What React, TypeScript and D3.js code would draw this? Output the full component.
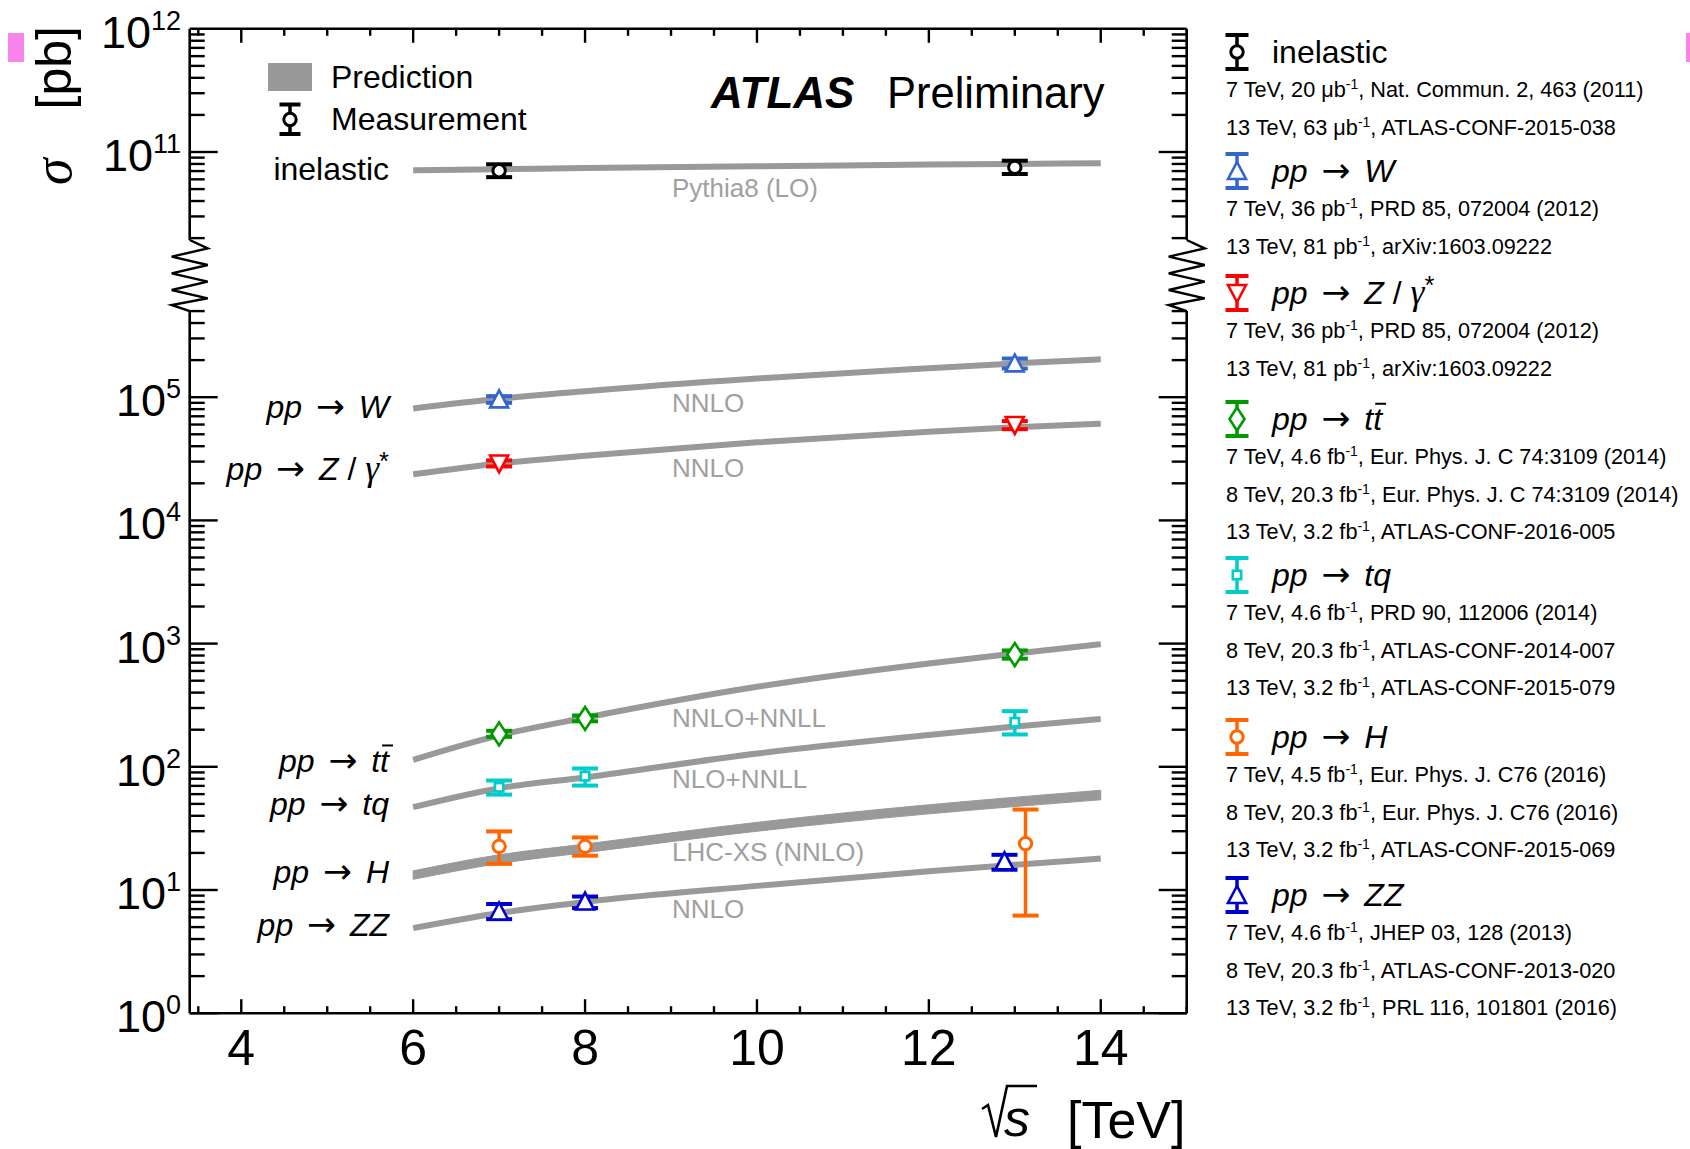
import React, { useLayoutEffect, useRef, useState } from 'react';
import * as d3 from 'd3';

// ---------------- data ----------------
const predEnergies = [6, 7, 8, 10, 12, 13, 14];
const predInelastic = [7.1e10, 7.25e10, 7.4e10, 7.65e10, 7.9e10, 8.0e10, 8.1e10];
const predW = [8.1e4, 9.7e4, 1.12e5, 1.42e5, 1.72e5, 1.88e5, 2.03e5];
const predZ = [2.37e4, 2.9e4, 3.35e4, 4.3e4, 5.25e4, 5.7e4, 6.1e4];
const predTT = [114, 180, 250, 446, 690, 830, 990];
const predTQ = [47, 67, 82, 128, 181, 212, 244];
const predHLo = [12.2, 16.4, 20.1, 30.0, 41.5, 47.6, 54.0];
const predHHi = [14.3, 19.3, 23.6, 35.4, 49.2, 56.6, 64.5];
const predZZ = [4.9, 6.5, 8.0, 10.8, 14.2, 16.0, 18.0];

// [sqrt(s), value, low, high]
const measInelastic = [[7, 7.05e10, 6.25e10, 7.95e10], [13, 7.5e10, 6.63e10, 8.5e10]];
const measW = [[7, 9.6e4, 9.0e4, 1.02e5], [13, 1.88e5, 1.71e5, 2.06e5]];
const measZ = [[7, 2.9e4, 2.74e4, 3.07e4], [13, 5.95e4, 5.5e4, 6.4e4]];
const measTT = [[7, 185, 175, 196], [8, 247, 234, 261], [13, 815, 754, 880]];
const measTQ = [[7, 68.2, 59.5, 77.4], [8, 83.9, 70.4, 96.9], [13, 230, 183, 283]];
const measH = [[7, 22.6, 16.3, 29.9], [8, 22.6, 19.0, 26.7], [13.125, 23.8, 6.2, 45]];
const measZZ = [[7, 6.7, 5.8, 7.7], [8, 8.06, 7.13, 8.85], [12.88, 17.1, 14.6, 19.3]];

const procColors = ['#000000', '#3366cc', '#ff0000', '#009900', '#00cccc', '#ff6600', '#0000cc'];
const procMarkers = ['circle', 'triUp', 'triDown', 'diamond', 'square', 'circle', 'triUp'];
const procMeas = [measInelastic, measW, measZ, measTT, measTQ, measH, measZZ];

const theoryLabels = ['Pythia8 (LO)', 'NNLO', 'NNLO', 'NNLO+NNLL', 'NLO+NNLL', 'LHC-XS (NNLO)', 'NNLO'];

const refInelastic = [['7 TeV', '20', '\u03bcb', 'Nat. Commun. 2, 463 (2011)'], ['13 TeV', '63', '\u03bcb', 'ATLAS-CONF-2015-038']];
const refW = [['7 TeV', '36', 'pb', 'PRD 85, 072004 (2012)'], ['13 TeV', '81', 'pb', 'arXiv:1603.09222']];
const refZ = [['7 TeV', '36', 'pb', 'PRD 85, 072004 (2012)'], ['13 TeV', '81', 'pb', 'arXiv:1603.09222']];
const refTT = [['7 TeV', '4.6', 'fb', 'Eur. Phys. J. C 74:3109 (2014)'], ['8 TeV', '20.3', 'fb', 'Eur. Phys. J. C 74:3109 (2014)'], ['13 TeV', '3.2', 'fb', 'ATLAS-CONF-2016-005']];
const refTQ = [['7 TeV', '4.6', 'fb', 'PRD 90, 112006 (2014)'], ['8 TeV', '20.3', 'fb', 'ATLAS-CONF-2014-007'], ['13 TeV', '3.2', 'fb', 'ATLAS-CONF-2015-079']];
const refH = [['7 TeV', '4.5', 'fb', 'Eur. Phys. J. C76 (2016)'], ['8 TeV', '20.3', 'fb', 'Eur. Phys. J. C76 (2016)'], ['13 TeV', '3.2', 'fb', 'ATLAS-CONF-2015-069']];
const refZZ = [['7 TeV', '4.6', 'fb', 'JHEP 03, 128 (2013)'], ['8 TeV', '20.3', 'fb', 'ATLAS-CONF-2013-020'], ['13 TeV', '3.2', 'fb', 'PRL 116, 101801 (2016)']];
const procRefs = [refInelastic, refW, refZ, refTT, refTQ, refH, refZZ];

const xMajorTicks = [4, 6, 8, 10, 12, 14];
const yLabelExps = [0, 1, 2, 3, 4, 5, 11, 12];

// ---------------- layout ----------------
const FONT = "'Liberation Sans', Arial, Helvetica, sans-serif";
const SYM = "'Liberation Serif', 'DejaVu Serif', serif";
const W = 1690, H = 1149;
const X = d3.scaleLinear().domain([3.4, 15]).range([189.7, 1186.7]);
const yLow = d3.scaleLog().domain([1, 1e5]).range([1013.2, 397.2]);
const yHigh = d3.scaleLog().domain([1e11, 1e12]).range([152, 28.8]);
const Y = (v: number) => (v >= 1e9 ? yHigh(v) : yLow(v));
const LEFT = X(3.4), RIGHT = X(15), TOP = yHigh(1e12), BOTTOM = yLow(1);
const BREAK_LOW = yLow(5e5);
const BREAK_HIGH = 240;
const GRAY = '#999999';
const LABEL_GRAY = '#a0a0a0';

function Marker({ type, cx, cy, color }: any) {
  const sw = 2.6;
  if (type === 'circle') return <circle cx={cx} cy={cy} r={6.2} fill="white" stroke={color} strokeWidth={3} />;
  if (type === 'triUp') return <polygon points={`${cx - 9},${cy + 8} ${cx + 9},${cy + 8} ${cx},${cy - 9}`} fill="white" stroke={color} strokeWidth={sw} />;
  if (type === 'triDown') return <polygon points={`${cx - 9},${cy - 8} ${cx + 9},${cy - 8} ${cx},${cy + 9}`} fill="white" stroke={color} strokeWidth={sw} />;
  if (type === 'diamond') return <polygon points={`${cx},${cy - 11.5} ${cx + 7.5},${cy} ${cx},${cy + 11.5} ${cx - 7.5},${cy}`} fill="white" stroke={color} strokeWidth={sw} />;
  return <rect x={cx - 4.2} y={cy - 4.2} width={8.4} height={8.4} fill="white" stroke={color} strokeWidth={2.6} />;
}

function ErrBar({ cx, yTop, yBot, color, half = 13 }: any) {
  return (
    <g stroke={color} strokeWidth={4}>
      <line x1={cx} x2={cx} y1={yTop} y2={yBot} strokeWidth={3.5} />
      <line x1={cx - half} x2={cx + half} y1={yTop} y2={yTop} />
      <line x1={cx - half} x2={cx + half} y1={yBot} y2={yBot} />
    </g>
  );
}

function zigzag(x: number) {
  const ys = [BREAK_HIGH, 248.3, 256.7, 265, 273.3, 281.7, 290, 298.3, 305, BREAK_LOW];
  const pts = ys.map((y, i) => {
    if (i === 0 || i === ys.length - 1) return [x, y];
    return [i % 2 === 1 ? x + 18 : x - 18, y];
  });
  return 'M' + pts.map((p) => p.join(',')).join('L');
}

function ProcLabel({ idx, x, y, fs, anchor, refCb }: any) {
  const it = { fontStyle: 'italic' } as any;
  if (idx === 0) return <text x={x} y={y} fontSize={fs} textAnchor={anchor}>inelastic</text>;
  const tail: any = {
    1: <tspan style={it}>W</tspan>,
    2: <><tspan style={it}>Z</tspan><tspan> / </tspan><tspan style={it} fontFamily={SYM} fontSize={fs * 1.1}>{'\u03b3'}</tspan><tspan dy={-fs * 0.3} fontSize={fs * 0.8}>*</tspan></>,
    3: <tspan style={it}>tt</tspan>,
    4: <tspan style={it}>tq</tspan>,
    5: <tspan style={it}>H</tspan>,
    6: <tspan style={it}>ZZ</tspan>,
  }[idx];
  return (
    <text ref={refCb} x={x} y={y} fontSize={fs} textAnchor={anchor}>
      <tspan style={it}>pp</tspan>
      <tspan dx={5}>{' '}</tspan>
      <tspan fontFamily="'DejaVu Sans', sans-serif" fontSize={fs * 1.08}>{'\u2192'}</tspan>
      <tspan dx={5}>{' '}</tspan>
      {tail}
    </text>
  );
}

export default function App() {
  const ttPlot = useRef<SVGTextElement>(null);
  const ttLeg = useRef<SVGTextElement>(null);
  const [bars, setBars] = useState<any[]>([]);

  useLayoutEffect(() => {
    document.body.style.margin = '0';
    const out: any[] = [];
    [[ttPlot, 32], [ttLeg, 32]].forEach(([r, fs]: any) => {
      const el = r.current as SVGTextElement | null;
      if (!el) return;
      const n = el.getNumberOfChars();
      const e = el.getExtentOfChar(n - 1);
      const base = Number(el.getAttribute('y'));
      out.push({ x1: e.x + 2, x2: e.x + e.width + 4, y: base - 0.82 * fs });
    });
    setBars(out);
  }, []);

  const line = d3.line<any>().x((d) => X(d[0])).y((d) => Y(d[1])).curve(d3.curveMonotoneX);
  const area = d3.area<any>().x((d) => X(d[0])).y0((d) => Y(d[1])).y1((d) => Y(d[2])).curve(d3.curveMonotoneX);
  const curves = [predInelastic, predW, predZ, predTT, predTQ, predZZ];
  const hBand = predEnergies.map((e, i) => [e, predHLo[i], predHHi[i]]);

  // y ticks
  const yTicks: { y: number; major: boolean }[] = [];
  for (let e = 0; e <= 5; e++) for (let k = 1; k <= 9; k++) {
    const v = k * Math.pow(10, e);
    if (v <= 5e5) yTicks.push({ y: yLow(v), major: k === 1 });
  }
  for (let e = 10; e <= 11; e++) for (let k = 1; k <= 9; k++) {
    const v = k * Math.pow(10, e);
    if (v >= 2e10 && v < 1e12) yTicks.push({ y: yHigh(v), major: k === 1 });
  }
  const xTicks: { x: number; major: boolean }[] = [];
  for (let v = 3.5; v <= 15.001; v += 0.5) xTicks.push({ x: X(v), major: xMajorTicks.includes(v) });

  const plotLabelY = [180, 418.3, 480, 771.7, 815, 883.3, 936];
  const theoryLabelY = [196.7, 411.7, 477, 726.7, 788.3, 860.7, 917.7];
  const legendHeaderY = [63, 182, 304, 430, 586, 748, 906];

  return (
    <svg width={W} height={H} style={{ position: 'absolute', left: 0, top: 0, display: 'block', background: 'white' }} fontFamily={FONT}>
      <rect x={0} y={0} width={W} height={H} fill="white" />
      <rect x={8} y={33} width={16} height={29} fill="#f985ec" />
      <rect x={1686} y={33} width={4} height={29} fill="#f985ec" />

      {/* predictions */}
      {curves.map((c, i) => (
        <path key={i} d={line(predEnergies.map((e, j) => [e, c[j]])) || ''} fill="none" stroke={GRAY} strokeWidth={6} />
      ))}
      <path d={area(hBand) || ''} fill={GRAY} stroke={GRAY} strokeWidth={1} />

      {/* theory labels */}
      {theoryLabels.map((t, i) => (
        <text key={i} x={672} y={theoryLabelY[i]} fontSize={26} fill={LABEL_GRAY}>{t}</text>
      ))}

      {/* measurements */}
      {procMeas.map((pts, i) => (
        <g key={i}>
          {pts.map((p, j) => (
            <ErrBar key={j} cx={X(p[0])} yTop={Y(p[3])} yBot={Y(p[2])} color={procColors[i]} />
          ))}
          {pts.map((p, j) => (
            <Marker key={j} type={procMarkers[i]} cx={X(p[0])} cy={Y(p[1])} color={procColors[i]} />
          ))}
        </g>
      ))}

      {/* frame */}
      <g stroke="black" strokeWidth={2.6} fill="none">
        <line x1={LEFT} x2={RIGHT} y1={TOP} y2={TOP} />
        <line x1={LEFT} x2={RIGHT} y1={BOTTOM} y2={BOTTOM} />
        <line x1={LEFT} x2={LEFT} y1={TOP} y2={BREAK_HIGH} />
        <line x1={LEFT} x2={LEFT} y1={BREAK_LOW} y2={BOTTOM} />
        <line x1={RIGHT} x2={RIGHT} y1={TOP} y2={BREAK_HIGH} />
        <line x1={RIGHT} x2={RIGHT} y1={BREAK_LOW} y2={BOTTOM} />
        <path d={zigzag(LEFT)} strokeWidth={2.4} />
        <path d={zigzag(RIGHT)} strokeWidth={2.4} />
      </g>
      <g stroke="black" strokeWidth={2.4}>
        {yTicks.map((t, i) => (
          <g key={i}>
            <line x1={LEFT} x2={LEFT + (t.major ? 28 : 15)} y1={t.y} y2={t.y} />
            <line x1={RIGHT} x2={RIGHT - (t.major ? 28 : 15)} y1={t.y} y2={t.y} />
          </g>
        ))}
        {xTicks.map((t, i) => (
          <g key={i}>
            <line x1={t.x} x2={t.x} y1={BOTTOM} y2={BOTTOM - (t.major ? 14 : 7)} />
            <line x1={t.x} x2={t.x} y1={TOP} y2={TOP + (t.major ? 14 : 7)} />
          </g>
        ))}
      </g>

      {/* tick labels */}
      {yLabelExps.map((e) => {
        const ty = e >= 10 ? yHigh(Math.pow(10, e)) : yLow(Math.pow(10, e));
        return (
          <text key={e} x={181} y={ty + 19} fontSize={45} textAnchor="end">
            10<tspan dy={-18} fontSize={27}>{e}</tspan>
          </text>
        );
      })}
      {xMajorTicks.map((v) => (
        <text key={v} x={X(v)} y={1065} fontSize={50} textAnchor="middle">{v}</text>
      ))}

      {/* axis titles */}
      <text transform={`translate(71,26) rotate(-90)`} fontSize={50} textAnchor="end">[pb]</text>
      <text transform={`translate(71,185) rotate(-90)`} fontSize={54} fontStyle="italic" fontFamily={SYM} textAnchor="start">{'\u03c3'}</text>
      <path d="M982,1109 L988,1105 L996,1137 L1007,1086 L1037,1086" fill="none" stroke="black" strokeWidth={2.6} />
      <text x={1004} y={1136} fontSize={52} fontStyle="italic">s</text>
      <text x={1067} y={1138} fontSize={52}>[TeV]</text>

      {/* ATLAS */}
      <text x={711} y={108} fontSize={44} fontWeight="bold" fontStyle="italic">ATLAS</text>
      <text x={887} y={108} fontSize={43.5}>Preliminary</text>

      {/* top-left legend */}
      <rect x={268} y={63} width={44} height={28} fill={GRAY} />
      <text x={331} y={88} fontSize={32}>Prediction</text>
      <ErrBar cx={290} yTop={104.5} yBot={134} color="black" half={10.5} />
      <Marker type="circle" cx={290} cy={119.5} color="black" />
      <text x={331} y={130} fontSize={32}>Measurement</text>

      {/* process labels inside plot */}
      {plotLabelY.map((y, i) => (
        <ProcLabel key={i} idx={i} x={389} y={y} fs={32} anchor="end" refCb={i === 3 ? ttPlot : undefined} />
      ))}

      {/* right legend */}
      {legendHeaderY.map((hy, i) => (
        <g key={i}>
          <ErrBar cx={1237} yTop={hy - 28} yBot={hy + 6} color={procColors[i]} half={11.5} />
          <Marker type={procMarkers[i]} cx={1237} cy={hy - 11} color={procColors[i]} />
          <ProcLabel idx={i} x={1272} y={hy} fs={32} anchor="start" refCb={i === 3 ? ttLeg : undefined} />
          {procRefs[i].map((r, j) => (
            <text key={j} x={1226} y={hy + 34 + j * 37.7} fontSize={21.7}>
              {`${r[0]}, ${r[1]} ${r[2]}`}
              <tspan dy={-8} fontSize={14}>-1</tspan>
              <tspan dy={8}>{`, ${r[3]}`}</tspan>
            </text>
          ))}
        </g>
      ))}

      {bars.map((b, i) => (
        <line key={i} x1={b.x1} x2={b.x2} y1={b.y} y2={b.y} stroke="black" strokeWidth={2} />
      ))}
    </svg>
  );
}
